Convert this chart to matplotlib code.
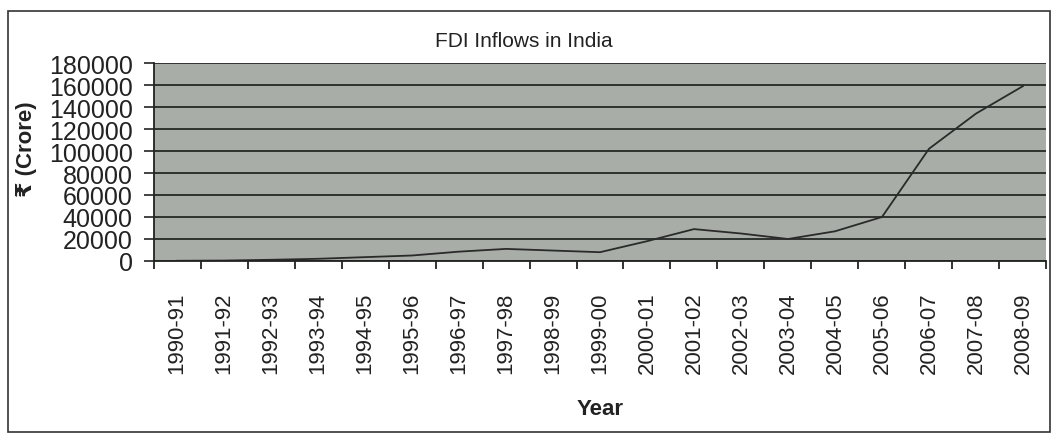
import matplotlib.pyplot as plt
from matplotlib.patches import Rectangle

# data (Rs crore)
years = ['1990-91', '1991-92', '1992-93', '1993-94', '1994-95', '1995-96',
         '1996-97', '1997-98', '1998-99', '1999-00', '2000-01', '2001-02',
         '2002-03', '2003-04', '2004-05', '2005-06', '2006-07', '2007-08',
         '2008-09']
fdi = [200, 400, 1100, 2000, 3500, 5000, 8500, 11000, 9500, 8000,
       18000, 29000, 25000, 20000, 27000, 40000, 102000, 134000, 159000]
y_ticks = list(range(0, 180001, 20000))

plt.rcParams['font.family'] = ['Liberation Sans', 'DejaVu Sans']

fig = plt.figure(figsize=(10.53, 4.39), dpi=100)
ax = fig.add_axes([0.1458, 0.4032, 0.848, 0.451])

x = list(range(len(years)))
ax.set_facecolor('#a8ada7')
ax.plot(x, fdi, color='#2a2a2a', lw=1.3)

ax.set_xlim(-0.5, len(years) - 0.5)
ax.set_ylim(0, 180000)
ax.set_yticks(y_ticks)
ax.set_yticklabels([str(v) for v in y_ticks], fontsize=18, color='#222')
ax.yaxis.grid(True, color='#2f332f', lw=1.4)
ax.set_axisbelow(True)

# ticks at category boundaries, labels at centers
ax.set_xticks([i - 0.5 for i in range(len(years) + 1)])
ax.set_xticklabels([])
ax.set_xticks(x, minor=True)
ax.set_xticklabels(years, minor=True, rotation=90, fontsize=16, color='#222')
ax.tick_params(axis='x', which='major', length=6, width=1.3, color='#222')
ax.tick_params(axis='x', which='minor', length=0, pad=22)
ax.tick_params(axis='y', length=7, width=1.2, color='#222', pad=8)

for s in ['top', 'right']:
    ax.spines[s].set_visible(False)
for s in ['left', 'bottom']:
    ax.spines[s].set_color('#222')
    ax.spines[s].set_linewidth(1.3)

ax.set_xlabel('Year', fontsize=16, fontweight='bold', color='#222', labelpad=18)
ax.set_ylabel('₹ (Crore)', fontsize=16, fontweight='bold', color='#222')
ax.yaxis.set_label_coords(-0.13, 0.57)

fig.text(0.497, 0.905, 'FDI Inflows in India', ha='center', va='center',
         fontsize=15, color='#222')

# outer chart border
fig.patches.append(Rectangle((0.008, 0.014), 0.989, 0.958, transform=fig.transFigure,
                             fill=False, edgecolor='#333', lw=1.2))

fig.savefig('out.png', dpi=100)
